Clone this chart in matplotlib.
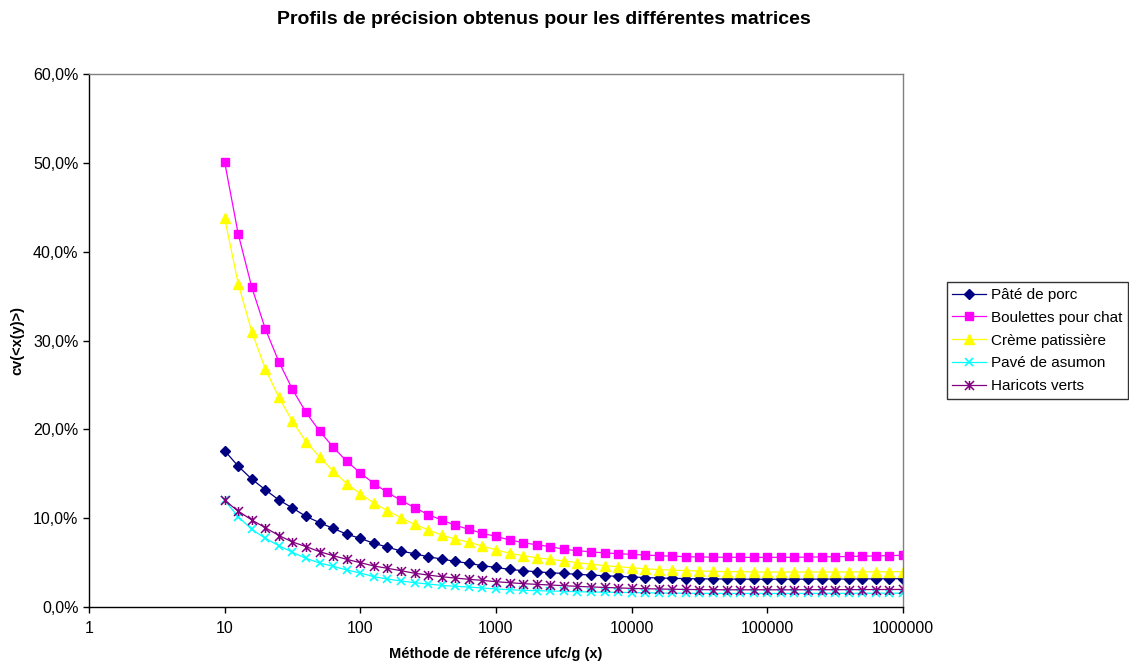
# profils de precision - cv en fonction du niveau de contamination
import matplotlib
matplotlib.use("Agg")
import matplotlib.pyplot as plt
from matplotlib.path import Path
from matplotlib.ticker import FixedLocator, FuncFormatter, NullLocator

plt.rcParams['font.family'] = ['Liberation Sans', 'DejaVu Sans']

# niveaux (ufc/g), 10 points par decade
niveaux = [10, 12.59, 15.85, 19.95, 25.12, 31.62, 39.81, 50.12, 63.1, 79.43,
           100, 125.9, 158.5, 199.5, 251.2, 316.2, 398.1, 501.2, 631, 794.3,
           1000, 1259, 1585, 1995, 2512, 3162, 3981, 5012, 6310, 7943,
           10000, 12589, 15849, 19953, 25119, 31623, 39811, 50119, 63096, 79433,
           100000, 125893, 158489, 199526, 251189, 316228, 398107, 501187, 630957, 794328,
           1000000]

pate_porc = [17.6, 15.85, 14.4, 13.2, 12.05, 11.15, 10.2, 9.5, 8.85, 8.2,
             7.73, 7.17, 6.75, 6.3, 6.0, 5.66, 5.4, 5.14, 4.92, 4.66,
             4.45, 4.24, 4.09, 3.97, 3.86, 3.78, 3.68, 3.6, 3.52, 3.46,
             3.38, 3.32, 3.27, 3.23, 3.2, 3.17, 3.16, 3.15, 3.14, 3.13,
             3.13, 3.13, 3.13, 3.14, 3.14, 3.15, 3.15, 3.16, 3.17, 3.18,
             3.19]

boulettes = [50.1, 42.0, 36.0, 31.3, 27.6, 24.5, 21.9, 19.8, 18.0, 16.4,
             15.1, 13.9, 12.9, 12.0, 11.2, 10.4, 9.8, 9.2, 8.75, 8.3,
             7.95, 7.55, 7.25, 7.0, 6.8, 6.5, 6.35, 6.2, 6.1, 6.0,
             5.93, 5.85, 5.78, 5.72, 5.67, 5.63, 5.62, 5.6, 5.59, 5.59,
             5.59, 5.59, 5.6, 5.62, 5.64, 5.66, 5.69, 5.72, 5.75, 5.79,
             5.82]

creme = [43.8, 36.4, 31.0, 26.8, 23.6, 20.9, 18.6, 16.9, 15.3, 13.9,
         12.75, 11.7, 10.85, 10.05, 9.3, 8.7, 8.1, 7.65, 7.3, 6.85,
         6.45, 6.05, 5.78, 5.55, 5.37, 5.18, 5.0, 4.82, 4.66, 4.54,
         4.42, 4.3, 4.22, 4.15, 4.1, 4.05, 4.02, 3.99, 3.97, 3.95,
         3.94, 3.94, 3.94, 3.94, 3.94, 3.95, 3.95, 3.96, 3.96, 3.97,
         3.98]

pave_saumon = [12.0, 10.17, 8.74, 7.73, 6.9, 6.16, 5.48, 4.95, 4.58, 4.17,
               3.83, 3.41, 3.15, 2.93, 2.74, 2.59, 2.44, 2.33, 2.25, 2.14,
               2.03, 1.95, 1.88, 1.84, 1.8, 1.77, 1.72, 1.69, 1.67, 1.65,
               1.63, 1.6, 1.58, 1.56, 1.55, 1.54, 1.53, 1.53, 1.53, 1.53,
               1.53, 1.53, 1.53, 1.53, 1.54, 1.54, 1.54, 1.55, 1.55, 1.56,
               1.56]

haricots = [12.0, 10.8, 9.8, 8.93, 8.05, 7.32, 6.8, 6.23, 5.78, 5.37,
            4.99, 4.62, 4.36, 4.09, 3.8, 3.6, 3.41, 3.26, 3.12, 3.0,
            2.85, 2.74, 2.63, 2.55, 2.48, 2.4, 2.33, 2.26, 2.21, 2.15,
            2.1, 2.06, 2.03, 2.0, 1.98, 1.96, 1.95, 1.94, 1.94, 1.94,
            1.94, 1.94, 1.94, 1.95, 1.95, 1.95, 1.96, 1.96, 1.97, 1.97,
            1.98]

# marqueur etoile facon Excel (x + trait vertical)
etoile = Path([(0, -1), (0, 1), (-1, -1), (1, 1), (-1, 1), (1, -1)],
              [Path.MOVETO, Path.LINETO, Path.MOVETO, Path.LINETO, Path.MOVETO, Path.LINETO])

fig = plt.figure(figsize=(11.29, 6.70), dpi=100)
ax = fig.add_axes([0.0788, 0.094, 0.7210, 0.7955])

ax.plot(niveaux, pate_porc, color='#000080', lw=0.9, marker='D', ms=5, label='Pâté de porc')
ax.plot(niveaux, boulettes, color='#FF00FF', lw=0.9, marker='s', ms=6, label='Boulettes pour chat')
ax.plot(niveaux, creme, color='#FFFF00', lw=0.9, marker='^', ms=7, label='Crème patissière')
ax.plot(niveaux, pave_saumon, color='#00FFFF', lw=0.9, marker='x', ms=6, mew=1.2, label='Pavé de asumon')
ax.plot(niveaux, haricots, color='#800080', lw=0.9, marker=etoile, ms=6.5, mew=1.1,
        mfc='none', label='Haricots verts')

ax.set_xscale('log')
ax.set_xlim(1, 1000000)
ax.set_ylim(0, 60)
ax.xaxis.set_major_locator(FixedLocator([1, 10, 100, 1000, 10000, 100000, 1000000]))
ax.xaxis.set_minor_locator(NullLocator())
ax.xaxis.set_major_formatter(FuncFormatter(lambda v, p: '%d' % round(v)))
ax.set_yticks([0, 10, 20, 30, 40, 50, 60])
ax.yaxis.set_major_formatter(FuncFormatter(lambda v, p: ('%.1f%%' % v).replace('.', ',')))
ax.tick_params(direction='out', length=4, width=1, labelsize=11.5, colors='black')
ax.tick_params(axis='x', pad=6)

for s in ['left', 'bottom']:
    ax.spines[s].set_color('black')
    ax.spines[s].set_linewidth(1)
for s in ['top', 'right']:
    ax.spines[s].set_color('#808080')
    ax.spines[s].set_linewidth(1)

ax.set_xlabel('Méthode de référence ufc/g (x)', fontsize=10.5, fontweight='bold', labelpad=8)
ax.set_ylabel('cv(<x(y)>)', fontsize=10.5, fontweight='bold', labelpad=6)
fig.suptitle('Profils de précision obtenus pour les différentes matrices',
             fontsize=14, fontweight='bold', x=0.482, y=0.983)

leg = ax.legend(loc='upper left', bbox_to_anchor=(0.8385, 0.579), bbox_transform=fig.transFigure,
                fontsize=11, frameon=True, fancybox=False, borderpad=0.38, labelspacing=0.58,
                handlelength=2.2, handletextpad=0.3, borderaxespad=0)
leg.get_frame().set_edgecolor('black')
leg.get_frame().set_linewidth(1)

fig.savefig('out.png', dpi=100)
